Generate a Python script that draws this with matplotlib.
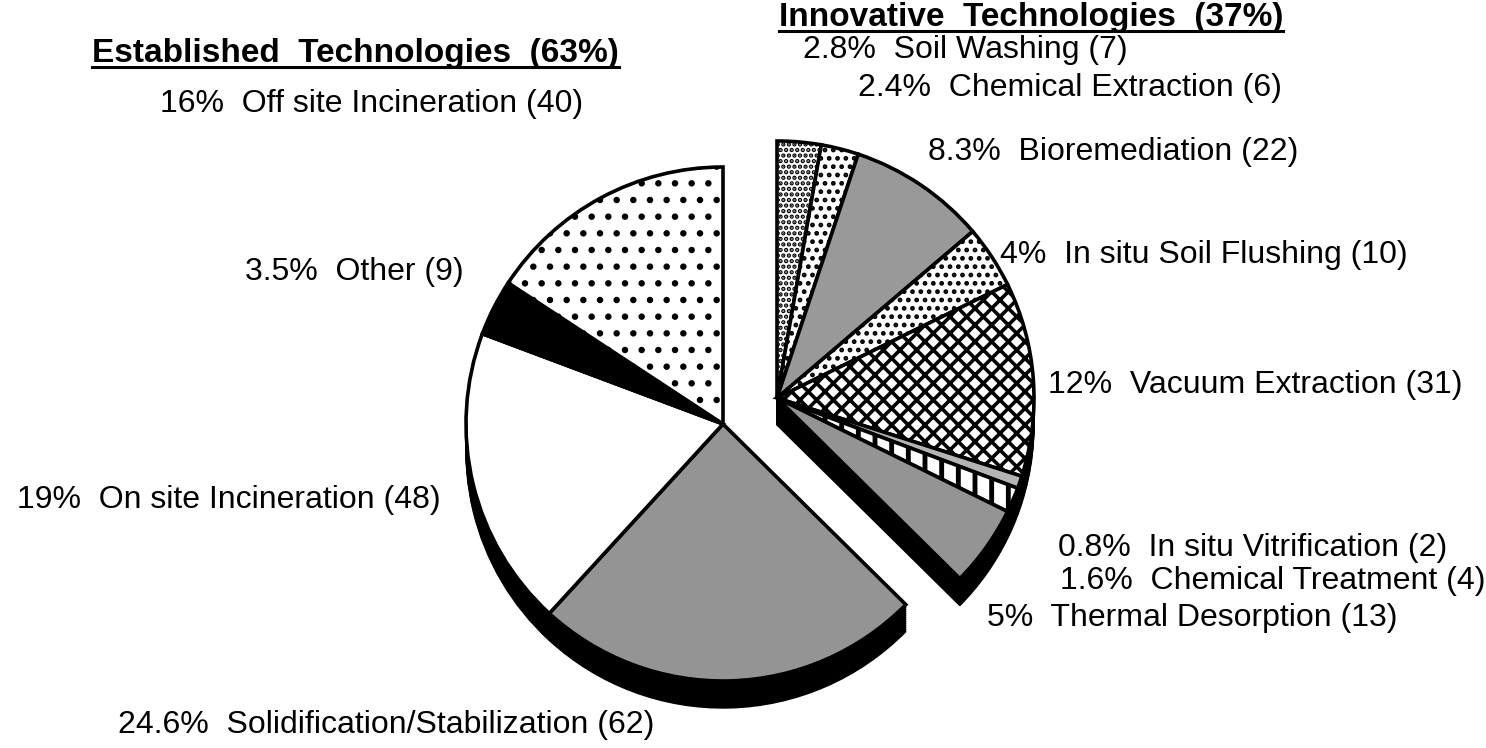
import matplotlib
matplotlib.use("Agg")
import matplotlib.pyplot as plt

# ---------------------------------------------------------------------------
# Data: remediation technologies selected at Superfund sites (counts)
# ---------------------------------------------------------------------------
innovative_names = ["Soil Washing", "Chemical Extraction", "Bioremediation",
                    "In situ Soil Flushing", "Vacuum Extraction",
                    "In situ Vitrification", "Chemical Treatment",
                    "Thermal Desorption"]
innovative_counts = [7, 6, 22, 10, 31, 2, 4, 13]
innovative_pcts = ["2.8%", "2.4%", "8.3%", "4%", "12%", "0.8%", "1.6%", "5%"]

established_names = ["Solidification/Stabilization", "On site Incineration",
                     "Other", "Off site Incineration"]
established_counts = [62, 48, 9, 40]
established_pcts = ["24.6%", "19%", "3.5%", "16%"]

group_titles = ["Innovative  Technologies  (37%)",
                "Established  Technologies  (63%)"]

# slice styles (same order as the data: innovative then established)
face_colors = ["white", "white", "#999999", "white", "white", "#b4b4b4",
               "white", "#949494",
               "#949494", "white", "black", "white"]
hatches = ["...", "..", None, "..", "xx", None, "|", None,
           None, None, None, "."]

# label anchors in pixel space (left x, centre y measured from top)
innov_label_xy = [(803, 50), (858, 88), (928, 152), (1000, 255),
                  (1048, 385), (1058, 548), (1060, 581), (987, 618)]
estab_label_xy = [(118, 725), (17, 500), (245, 272), (160, 104)]
title_xy = [(779, 17), (92, 53)]

W, H = 1486, 748
CX, CY = 723, H - 424
R = 257
DEPTH = 27
EXPLODE = (54, 26)

fig = plt.figure(figsize=(W / 100, H / 100), dpi=100)
ax = fig.add_axes([0, 0, 1, 1])

counts = innovative_counts + established_counts
n_innov = len(innovative_counts)


def draw_pie(dy, top):
    wedges, _ = ax.pie(counts, startangle=90, counterclock=False,
                       center=(CX, CY - dy), radius=R, frame=True,
                       wedgeprops=dict(edgecolor="black",
                                       linewidth=2.6 if top else 1.0))
    for i, w in enumerate(wedges):
        if i < n_innov:
            c = w.center
            w.set_center((c[0] + EXPLODE[0], c[1] + EXPLODE[1]))
        if top:
            w.set_facecolor(face_colors[i])
            if hatches[i]:
                w.set_hatch(hatches[i])
                if hasattr(w, "set_hatch_linewidth"):
                    lw = {"xx": 2.6, "|": 3.5}.get(hatches[i], 2.2)
                    w.set_hatch_linewidth(lw)
            w.set_zorder(10)
        else:
            w.set_facecolor("black")
            w.set_zorder(2)
    return wedges


# shadow (side of the 3-D pie) then the top face
for d in range(DEPTH, 0, -2):
    draw_pie(d, top=False)
draw_pie(0, top=True)

ax.set_xlim(0, W)
ax.set_ylim(0, H)
ax.set_aspect("equal")
ax.axis("off")

font = "Liberation Sans"
for pct, name, cnt, (x, y) in zip(innovative_pcts, innovative_names,
                                  innovative_counts, innov_label_xy):
    ax.text(x, H - y, f"{pct}  {name} ({cnt})", ha="left", va="center",
            fontsize=23, family=font)
for pct, name, cnt, (x, y) in zip(established_pcts, established_names,
                                  established_counts, estab_label_xy):
    ax.text(x, H - y, f"{pct}  {name} ({cnt})", ha="left", va="center",
            fontsize=23, family=font)

titles = []
for t, (x, y) in zip(group_titles, title_xy):
    titles.append(ax.text(x, H - y, t, ha="left", va="center", fontsize=24,
                          fontweight="bold", family=font))

# underline the two group headings
fig.canvas.draw()
renderer = fig.canvas.get_renderer()
inv = ax.transData.inverted()
for t in titles:
    bb = t.get_window_extent(renderer)
    (x0, y0), (x1, _) = inv.transform([(bb.x0, bb.y0), (bb.x1, bb.y1)])
    ax.plot([x0, x1], [y0 + 2, y0 + 2], color="black", lw=2.2)

fig.savefig("out.png", dpi=100, facecolor="white")
